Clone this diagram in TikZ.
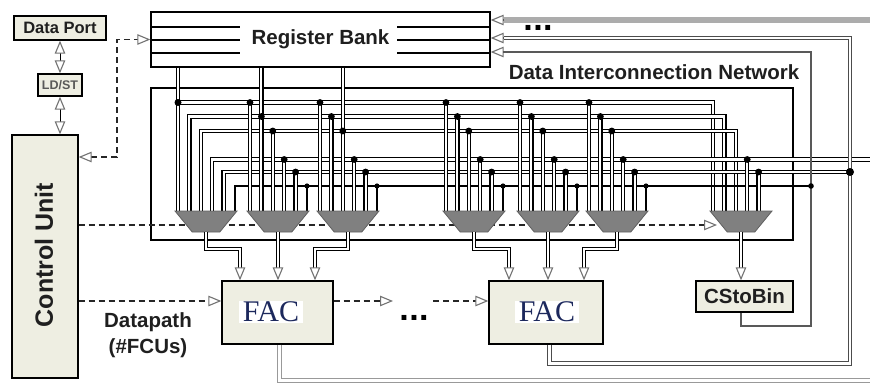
\documentclass[tikz,border=0pt]{standalone}
\usepackage{fontspec}
\setmainfont{Liberation Serif}
\setsansfont{Liberation Sans}
\usepackage{graphicx}
\usetikzlibrary{arrows.meta,shapes.geometric}
\definecolor{boxfill}{RGB}{238,238,226}
\definecolor{muxfill}{RGB}{128,128,128}
\definecolor{muxdraw}{RGB}{95,95,95}
\definecolor{facblue}{RGB}{28,40,92}
\definecolor{fbgray}{RGB}{172,172,172}
\tikzset{
  OT/.tip={Triangle[length=13pt,width=10.5pt,fill=white,color=black!55,line width=1.1pt]},
  box/.style={draw=black, line width=1.3pt, fill=boxfill, inner sep=0pt},
  lbl/.style={font=\sffamily\bfseries\fontsize{20.5}{26}\selectfont, text=black!88},
  mux/.style={trapezium, trapezium left angle=58, trapezium right angle=58,
     shape border rotate=180, trapezium stretches=true, minimum width=62pt,
     minimum height=21pt, inner sep=1pt, fill=muxfill, draw=muxdraw, line width=0.8pt},
  bus/.style={draw=black, double=white, double distance=2.1pt, line width=1.2pt},
  wire/.style={draw=black, line width=1.3pt},
  ctl/.style={draw=black!85, line width=1.3pt, dash pattern=on 6pt off 4pt},
  fb/.style={draw=black!40, double=white, double distance=2.4pt, line width=1.1pt},
  fbb/.style={draw=black!70, double=white, double distance=2.2pt, line width=1.1pt},
  fbs/.style={draw=black!65, line width=1.3pt},
  rbl/.style={draw=black, line width=1.3pt},
  fac/.style={font=\rmfamily\fontsize{30}{32}\selectfont, text=facblue, fill=white, inner xsep=4pt, inner ysep=1pt},
  ell/.style={font=\sffamily\bfseries\fontsize{34}{36}\selectfont, inner sep=0pt},
  tipl/.style={line width=1.1pt, -OT},
}
\begin{document}
\begin{tikzpicture}[x=1pt,y=-1pt]
\useasboundingbox (0,0) rectangle (870,383);

% ---- left column
\node[box, lbl, font=\sffamily\bfseries\fontsize{16.5}{18}\selectfont, minimum width=92pt, minimum height=24pt] (DP) at (60,28) {Data Port};
\node[box, font=\sffamily\bfseries\fontsize{12.5}{14}\selectfont, text=black!65, minimum width=44pt, minimum height=22pt] (LS) at (60,85) {LD/ST};
\node[box, minimum width=66pt, minimum height=243pt] (CU) at (45,256.5) {};
\node[lbl, font=\sffamily\bfseries\fontsize{25}{28}\selectfont, rotate=90] (CUt) at (44,255) {Control Unit};
\draw[line width=1pt, OT-OT] (DP.south) -- (LS.north);
\draw[line width=1pt, OT-OT] (LS.south) -- (LS.south |- CU.north);

% ---- network box and register bank
\node[draw=black, line width=1.3pt, minimum width=642pt, minimum height=152pt, inner sep=0pt] (DIN) at (472,164) {};
\node[lbl] (DINl) at (654,72) {Data Interconnection Network};
\node[draw=black, line width=1.3pt, fill=white, minimum width=339pt, minimum height=55pt, lbl] (RB) at (320.5,39.5) {Register Bank};
\foreach \yy in {27,40,53}{
  \draw[rbl] (151,\yy) -- (240,\yy);
  \draw[rbl] (397,\yy) -- (490,\yy);
}

% ---- buses
\draw[bus] (178,102.5) -- (713,102.5) -- (713,211);
\draw[bus] (189.4,211) |- (724.4,116.5) -- (724.4,211);
\draw[bus] (200.8,211) |- (735.8,131) -- (735.8,211);
\draw[bus] (212.2,211) |- (870,159.5);
\draw[bus] (223.6,211) |- (850,172);
\draw[wire] (235,211) |- (811,186);

% ---- taps
\foreach \ml in {247,317,443,517,586}{
  \foreach \yy/\sty [count=\i from 0] in {102.5/bus,116.5/bus,131/bus,159.5/bus,172/bus,186/wire}{
    \pgfmathsetmacro{\xx}{\ml+3+11.4*\i}
    \draw[\sty] (\xx,\yy) -- (\xx,211);
  }
}
\draw[bus] (747.2,159.5) -- (747.2,211);
\draw[bus] (758.6,172) -- (758.6,211);
% register outputs
\draw[bus] ([xshift=-142.5pt]RB.south) -- (178,211);
\draw[bus] ([xshift=-59.1pt]RB.south) -- (261.4,116.5);
\draw[bus] ([xshift=22.3pt]RB.south) -- (342.8,131);
% dots
\fill (178,102.5) circle (3.5pt);
\foreach \ml in {247,317,443,517,586}{
  \foreach \yy/\rr [count=\i from 0] in {102.5/3.4,116.5/3.4,131/3.4,159.5/3.4,172/3.4,186/2.6}{
    \pgfmathsetmacro{\xx}{\ml+3+11.4*\i}
    \fill (\xx,\yy) circle (\rr pt);
  }
}
\fill (747.2,159.5) circle (3.4pt);
\fill (758.6,172) circle (3.4pt);

% ---- control line to last mux
\coordinate (cuin) at (717,225);
\draw[ctl,-OT] (CU.east |- cuin) -- (cuin);

% ---- muxes
\foreach \c [count=\k] in {206,278,348,474,548,617,741}{
  \node[mux] (m\k) at (\c,221.5) {};
}

% ---- FACs and CStoBin
\node[box, minimum width=111pt, minimum height=63pt] (FAC1) at (277.5,312.5) {};
\node[box, minimum width=114pt, minimum height=63pt] (FAC2) at (546,312.5) {};
\node[box, lbl, minimum width=97pt, minimum height=31pt] (CSB) at (744.5,296.5) {CStoBin};
\node[fac] (F1t) at (271,312) {FAC};
\node[fac] (F2t) at (547,312) {FAC};

% ---- mux outputs
\coordinate (f1a) at (240,268);
\coordinate (f1b) at (278,268);
\coordinate (f1c) at (315,268);
\coordinate (f2a) at (509,268);
\coordinate (f2b) at (548,268);
\coordinate (f2c) at (584,268);
\coordinate (csi) at (741,268);
\draw[bus] ([yshift=-10.5pt]m1.center) -- ++(0,17) -| (f1a);
\draw[bus] ([yshift=-10.5pt]m2.center) -- (f1b);
\draw[bus] ([yshift=-10.5pt]m3.center) -- ++(0,17) -| (f1c);
\draw[bus] ([yshift=-10.5pt]m4.center) -- ++(0,17) -| (f2a);
\draw[bus] ([yshift=-10.5pt]m5.center) -- (f2b);
\draw[bus] ([yshift=-10.5pt]m6.center) -- ++(0,17) -| (f2c);
\draw[bus] ([yshift=-10.5pt]m7.center) -- (csi);
\draw[tipl] (f1a) -- (f1a |- FAC1.north);
\draw[tipl] (f1b) -- (f1b |- FAC1.north);
\draw[tipl] (f1c) -- (f1c |- FAC1.north);
\draw[tipl] (f2a) -- (f2a |- FAC2.north);
\draw[tipl] (f2b) -- (f2b |- FAC2.north);
\draw[tipl] (f2c) -- (f2c |- FAC2.north);
\draw[tipl] (csi) -- (csi |- CSB.north);

% ---- feedback lines
\coordinate (eB) at (870,380.5);
\draw[fb] ([xshift=2pt]FAC1.south) |- (eB);
\coordinate (eT) at (870,20);
\coordinate (t20) at (504,20);
\draw[line width=6pt, fbgray] (eT) -- (t20);
\draw[tipl] (t20) -- (RB.east |- t20);
\coordinate (t38) at (504,38);
\draw[fbb] ([xshift=3.5pt]FAC2.south) |- (850,363.5) |- (t38);
\draw[tipl] (t38) -- (RB.east |- t38);
\coordinate (t52) at (504,52);
\draw[fbs] ([xshift=-3.5pt]CSB.south) |- (811,326) |- (t52);
\draw[tipl] (t52) -- (RB.east |- t52);
\fill (811,186) circle (2.8pt);
\fill (850,172) circle (4pt);
\node[ell] (dots1) at (538,28) {.\hspace{0.5pt}.\hspace{0.5pt}.};

% ---- control dashed lines
\coordinate (y301) at (0,301);
\coordinate (y157) at (0,157);
\draw[ctl,-OT] (CU.east |- y301) -- (FAC1.west |- y301);
\draw[ctl,OT-OT] (CU.east |- y157) -| (117,39.5) -- (RB.west);
\coordinate (d1) at (393,301);
\coordinate (d2) at (433,301);
\draw[ctl,-OT] (FAC1.east |- y301) -- (d1);
\draw[ctl,-OT] (d2) -- (FAC2.west |- y301);
\node[ell] (dots2) at (414,318) {.\hspace{0.5pt}.\hspace{0.5pt}.};
\node[lbl, align=center] (dpl) at (148,335) {Datapath\\(\#FCUs)};
\end{tikzpicture}
\end{document}
